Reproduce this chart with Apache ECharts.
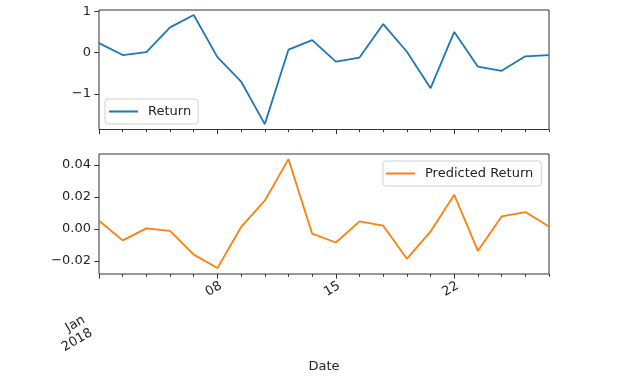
<!DOCTYPE html>
<html>
<head>
<meta charset="utf-8">
<script src="https://cdn.jsdelivr.net/npm/echarts@6/dist/echarts.min.js"></script>
<style>html,body{margin:0;padding:0;background:#fff}#c{width:640px;height:388px}</style>
</head>
<body>
<div id="c"></div>
<script>
const dates = ['2018-01-01','2018-01-02','2018-01-03','2018-01-04','2018-01-05',
  '2018-01-08','2018-01-09','2018-01-10','2018-01-11','2018-01-12',
  '2018-01-15','2018-01-16','2018-01-17','2018-01-18','2018-01-19',
  '2018-01-22','2018-01-23','2018-01-24','2018-01-25','2018-01-26'];
const returnValues = [0.23,-0.06,0.01,0.61,0.91,-0.11,-0.70,-1.73,0.07,0.30,
  -0.22,-0.12,0.69,0.02,-0.86,0.50,-0.34,-0.44,-0.09,-0.06];
const predictedValues = [0.0052,-0.0071,0.0004,-0.0011,-0.0160,-0.0244,0.0013,0.0177,0.0437,-0.0029,
  -0.0084,0.0048,0.0021,-0.0186,-0.0015,0.0214,-0.0136,0.0079,0.0106,0.0016];
const minorTickLabels = ['','','','','','08','','','','','15','','','','','22','','','',''];
const majorTickLabels = ['Jan\n2018','','','','','','','','','','','','','','','','','','',''];
const majorTickIdx = [0,5,10,15];
const topYTicks = [-1,0,1];
const bottomYTicks = [-0.02,0.00,0.02,0.04];

const FONT = 'DejaVu Sans';
const TXT = '#262626';
const AX = '#333';
const fmtMinus = s => String(s).replace('-', '\u2212');
const LINE_ICON = 'path://M0,0 L29,0 L29,2 L0,2 Z';

function xAxisMinor(gridIndex, showLabels, name) {
  return {
    type: 'category', gridIndex, data: dates, boundaryGap: false, position: 'bottom',
    axisLine: {show: false, onZero: false},
    axisTick: {show: true, length: 2.7, interval: 0, lineStyle: {color: AX, width: 1}},
    axisLabel: {
      show: showLabels, rotate: 30, margin: 13, padding: [0, -4, 0, 0],
      interval: (i) => minorTickLabels[i] !== '',
      formatter: (v, i) => minorTickLabels[i], fontFamily: FONT, fontSize: 13, color: TXT
    },
    splitLine: {show: false},
    name: name || '', nameLocation: 'middle', nameGap: 86,
    nameTextStyle: {fontFamily: FONT, fontSize: 13, color: TXT}
  };
}
function xAxisMajor(gridIndex, showLabels) {
  return {
    type: 'category', gridIndex, data: dates, boundaryGap: false, position: 'bottom',
    axisLine: {show: false, onZero: false},
    axisTick: {show: true, length: 4.7, interval: (i) => majorTickIdx.includes(i), lineStyle: {color: AX, width: 1}},
    axisLabel: {
      show: showLabels, rotate: 30, margin: 45, padding: [0, 13, 0, 0], lineHeight: 15,
      interval: (i) => majorTickLabels[i] !== '',
      formatter: (v, i) => majorTickLabels[i], fontFamily: FONT, fontSize: 13, color: TXT
    },
    splitLine: {show: false}
  };
}
function yAxis(gridIndex, min, max, ticks, fmt) {
  return {
    type: 'value', gridIndex, min, max,
    axisLine: {show: false, onZero: false},
    splitLine: {show: false},
    axisTick: {show: true, length: 4.7, customValues: ticks, lineStyle: {color: AX, width: 1}},
    axisLabel: {show: true, margin: 8, customValues: ticks, formatter: fmt,
      fontFamily: FONT, fontSize: 13, color: TXT}
  };
}

const chart = echarts.init(document.getElementById('c'), null, {renderer: 'canvas'});
chart.setOption({
  animation: false,
  backgroundColor: '#fff',
  grid: [
    {left: 99, right: 91, top: 10, height: 119.5, show: true, borderColor: AX, borderWidth: 1, backgroundColor: 'transparent'},
    {left: 99, right: 91, top: 154, height: 120, show: true, borderColor: AX, borderWidth: 1, backgroundColor: 'transparent'}
  ],
  xAxis: [xAxisMinor(0, false), xAxisMajor(0, false), xAxisMinor(1, true, 'Date'), xAxisMajor(1, true)],
  yAxis: [
    yAxis(0, -1.86, 1.03, topYTicks, v => fmtMinus(Math.round(v))),
    yAxis(1, -0.0281, 0.0469, bottomYTicks, v => fmtMinus(v.toFixed(2)))
  ],
  legend: [
    {data: [{name: 'Return', icon: LINE_ICON}], left: 105, top: 99, orient: 'vertical', itemWidth: 29, itemHeight: 2,
     padding: [6, 7, 6, 4], borderColor: '#d0d0d0', borderWidth: 1, borderRadius: 3,
     backgroundColor: 'rgba(255,255,255,0.8)',
     textStyle: {fontFamily: FONT, fontSize: 13, color: TXT, padding: [0, 0, 0, 5]}},
    {data: [{name: 'Predicted Return', icon: LINE_ICON}], left: 383, top: 161, orient: 'vertical', itemWidth: 29, itemHeight: 2,
     padding: [6, 8, 6, 3], borderColor: '#d0d0d0', borderWidth: 1, borderRadius: 3,
     backgroundColor: 'rgba(255,255,255,0.8)',
     textStyle: {fontFamily: FONT, fontSize: 13, color: TXT, padding: [0, 0, 0, 5]}}
  ],
  series: [
    {name: 'Return', type: 'line', xAxisIndex: 0, yAxisIndex: 0, data: returnValues,
     symbol: 'none', lineStyle: {color: '#1f77b4', width: 1.8}, itemStyle: {color: '#1f77b4'}},
    {name: 'Predicted Return', type: 'line', xAxisIndex: 2, yAxisIndex: 1, data: predictedValues,
     symbol: 'none', lineStyle: {color: '#ff7f0e', width: 1.8}, itemStyle: {color: '#ff7f0e'}}
  ]
});
</script>
</body>
</html>
